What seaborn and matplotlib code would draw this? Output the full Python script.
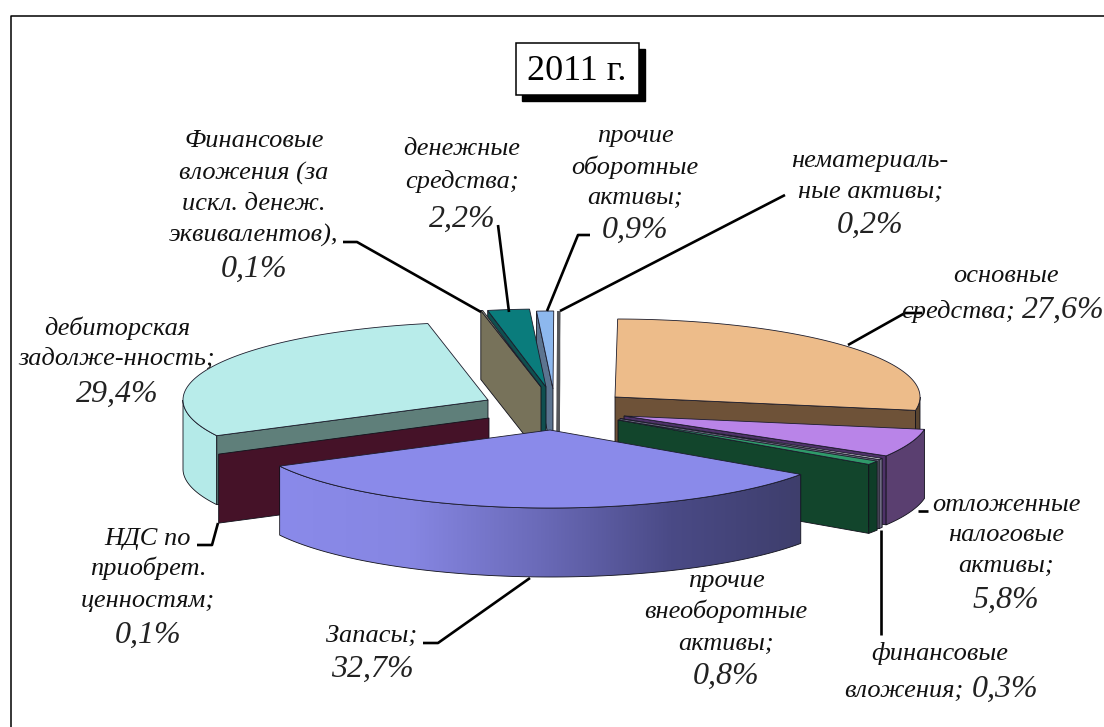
import numpy as np
import seaborn as sns
import matplotlib.pyplot as plt
from matplotlib.colors import LinearSegmentedColormap
from matplotlib.patches import Polygon

# shares clockwise from 12 o'clock
shares = [27.6, 5.8, 0.3, 0.8, 32.7, 0.1, 29.4, 0.1, 2.2, 0.9, 0.2]
slice_keys = ['osn', 'otl', 'fin', 'vneob', 'zap', 'nds', 'deb', 'finv', 'den', 'obor', 'nem']
label_lines = [
    ['основные', 'средства;'],
    ['отложенные', 'налоговые', 'активы;'],
    ['финансовые', 'вложения;'],
    ['прочие', 'внеоборотные', 'активы;'],
    ['Запасы;'],
    ['НДС по', 'приобрет.', 'ценностям;'],
    ['дебиторская', 'задолже-нность;'],
    ['Финансовые', 'вложения (за', 'искл. денеж.', 'эквивалентов),'],
    ['денежные', 'средства;'],
    ['прочие', 'оборотные', 'активы;'],
    ['нематериаль-', 'ные активы;'],
]
top_colors = ['#EDBC8A', '#B984E8', '#C8C8D0', '#2F9A6A', '#8A8AEA', '#6B2A45',
              '#B8ECEA', '#A8A480', '#0A7C7C', '#8DB8EE', '#E6E6E6']
face_colors = ['#6E5238', '#4E3268', '#6E6A82', '#12452C', '#3E3E70', '#451228',
               '#5F7F7A', '#77725A', '#0F4F4F', '#5C7490', '#55565A']
rim_colors = ['#5A4530', '#5A3F70', '#6E6A82', '#0F3D28', '#8A8AEA', '#451228',
              '#B4EAE8', '#77725A', '#0F4F4F', '#5C7490', '#55565A']

# layout in pixels
RX, RY, DEPTH = 305, 78, 69
START = 0.5
apex = {'osn': (615, 397), 'otl': (624, 416), 'fin': (620, 418.5), 'vneob': (618, 420),
        'zap': (550, 430), 'nds': (489, 418), 'deb': (488, 400), 'finv': (541, 387),
        'den': (546, 387), 'obor': (553, 389), 'nem': (558, 389)}
# centre x and one baseline per line of text
label_x = {'osn': 1006, 'otl': 1006, 'fin': 940, 'vneob': 726, 'zap': 372, 'nds': 148,
           'deb': 117, 'finv': 254, 'den': 462, 'obor': 635, 'nem': 870}
label_y = {'osn': [282, 318], 'otl': [511, 541, 572, 608], 'fin': [660, 697],
           'vneob': [587, 618, 650, 684], 'zap': [642, 677], 'nds': [545, 575, 607, 643],
           'deb': [335, 365, 402], 'finv': [147, 180, 210, 242, 277], 'den': [155, 188, 227],
           'obor': [142, 174, 204, 238], 'nem': [167, 198, 233]}
# labels with the value on the same line: name right edge, value left edge
inline_split = {'osn': (1015, 1022), 'fin': (963, 972)}
leaders = [
    [(343, 242), (357, 242), (481, 312)],
    [(498, 225), (509, 312)],
    [(590, 235), (578, 235), (547, 311)],
    [(785, 195), (560, 311)],
    [(848, 345), (905, 313), (922, 313)],
    [(197, 545), (212, 545), (218, 523)],
    [(423, 643), (438, 643), (530, 578)],
    [(918, 511), (928, 511)],
    [(881, 530), (881, 635)],
]

sns.set_theme(style='white')
plt.rcParams['font.family'] = ['Liberation Serif', 'DejaVu Serif']

fig = plt.figure(figsize=(11.04, 7.27), dpi=100)
ax = fig.add_axes([0, 0, 1, 1])
ax.axis('off')

# angle ranges from the shares
edges = START + np.cumsum([0] + shares) * 3.6
ranges = {k: (edges[i], edges[i + 1]) for i, k in enumerate(slice_keys)}
top_c = dict(zip(slice_keys, sns.color_palette(top_colors)))
face_c = dict(zip(slice_keys, sns.color_palette(face_colors)))
rim_c = dict(zip(slice_keys, sns.color_palette(rim_colors)))


def pt(key, ang):
    a = np.radians(ang)
    x0, y0 = apex[key]
    return x0 + RX * np.sin(a), y0 - RY * np.cos(a)


def arc(key, a1, a2):
    angs = np.linspace(a1, a2, max(int(abs(a2 - a1) * 2), 2))
    return np.array([pt(key, a) for a in angs])


def draw_top(key, z):
    a1, a2 = ranges[key]
    pts = np.vstack([[apex[key]], arc(key, a1, a2)])
    ax.add_patch(Polygon(pts, closed=True, fc=top_c[key], ec='#1c1c2c', lw=0.6, zorder=z))


def draw_cut(key, ang, z, ec='#10101a', lw=0.6):
    x0, y0 = apex[key]
    x1, y1 = pt(key, ang)
    pts = [(x1, y1), (x0, y0), (x0, y0 + DEPTH), (x1, y1 + DEPTH)]
    ax.add_patch(Polygon(pts, closed=True, fc=face_c[key], ec=ec, lw=lw, zorder=z))


def rim_poly(key):
    a1, a2 = ranges[key]
    a1, a2 = max(a1, 90), min(a2, 270)
    if a2 <= a1:
        return None
    top = arc(key, a1, a2)
    low = top[::-1] + [0, DEPTH]
    return np.vstack([top, low])


def draw_rim(key, z):
    pts = rim_poly(key)
    if pts is not None:
        ax.add_patch(Polygon(pts, closed=True, fc=rim_c[key], ec='#10101a', lw=0.6, zorder=z))


# back to front
z = 2
draw_cut('nem', ranges['nem'][0], z, ec=face_colors[-1], lw=2.2)
z += 2
for key in ['obor', 'den', 'finv']:
    draw_cut(key, ranges[key][0], z)
    draw_top(key, z + 1)
    z += 2
draw_rim('deb', z)
draw_cut('deb', ranges['deb'][0], z)
draw_top('deb', z + 1)
z += 2
draw_cut('nds', ranges['nds'][0], z)
z += 1
draw_cut('osn', ranges['osn'][1], z)
draw_rim('osn', z)
draw_top('osn', z + 1)
z += 2
for key in ['otl', 'fin', 'vneob']:
    draw_cut(key, ranges[key][1], z)
    draw_rim(key, z)
    draw_top(key, z + 1)
    z += 2

# Запасы with shaded side
pts = rim_poly('zap')
patch = Polygon(pts, closed=True, fc='none', ec='#10101a', lw=0.6, zorder=z + 1)
ax.add_patch(patch)
shade = LinearSegmentedColormap.from_list('zap', ['#8A8AEA', '#8686E2', '#6A6AB8', '#4A4A86', '#3E3E6C'])
img = ax.imshow(np.linspace(0, 1, 256).reshape(1, -1), cmap=shade, aspect='auto',
                extent=(pts[:, 0].min(), pts[:, 0].max(), pts[:, 1].max(), pts[:, 1].min()), zorder=z)
img.set_clip_path(patch)
draw_top('zap', z + 2)

ax.set_xlim(0, 1104)
ax.set_ylim(727, 0)

# leader lines
for line in leaders:
    xs, ys = zip(*line)
    ax.plot(xs, ys, color='black', lw=1.9, zorder=40, solid_capstyle='butt')

# labels, the values are set larger than the names
NAME_SIZE, VALUE_SIZE = 19, 23
for key, share, lines in zip(slice_keys, shares, label_lines):
    value = f'{share:.1f}'.replace('.', ',') + '%'
    ys = label_y[key]
    for line, y in zip(lines, ys):
        if key in inline_split and line == lines[-1]:
            ax.text(inline_split[key][0], y, line, ha='right', va='baseline', style='italic',
                    fontsize=NAME_SIZE, color='#111111', zorder=50)
        else:
            ax.text(label_x[key], y, line, ha='center', va='baseline', style='italic',
                    fontsize=NAME_SIZE, color='#111111', zorder=50)
    if key in inline_split:
        ax.text(inline_split[key][1], ys[-1], value, ha='left', va='baseline', style='italic',
                fontsize=VALUE_SIZE, color='#222222', zorder=50)
    else:
        ax.text(label_x[key], ys[-1], value, ha='center', va='baseline', style='italic',
                fontsize=VALUE_SIZE, color='#222222', zorder=50)

# title box
ax.add_patch(plt.Rectangle((522, 49), 123, 52, fc='black', ec='black', zorder=60))
ax.add_patch(plt.Rectangle((516, 43), 123, 52, fc='white', ec='black', lw=1.1, zorder=61))
ax.text(577, 72, '2011 г.', ha='center', va='center', fontsize=26, color='black', zorder=62)

# outer frame
ax.plot([11, 11, 1104], [727, 15.5, 15.5], color='black', lw=1.1, zorder=1)

fig.savefig('out.png', dpi=100)
